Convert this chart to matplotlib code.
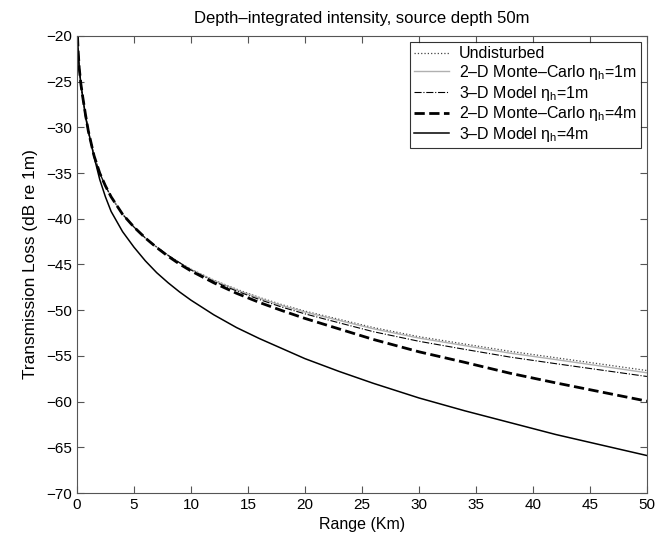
import matplotlib.pyplot as plt
import numpy as np

plt.rcParams['font.family'] = ['Liberation Sans', 'DejaVu Sans']
plt.rcParams['mathtext.fontset'] = 'custom'
plt.rcParams['mathtext.rm'] = 'Liberation Sans'
plt.rcParams['mathtext.it'] = 'Liberation Sans'

# range (km)
rng = [0.05, 0.1, 0.2, 0.35, 0.5, 0.75, 1, 1.5, 2, 2.5, 3, 4, 5, 6, 7, 8, 9,
       10, 12, 14, 16, 18, 20, 23, 26, 30, 34, 38, 42, 46, 50]

# common near-field part (0.05 .. 9 km)
head = [-20.0, -21.5, -23.5, -25.3, -26.6, -28.6, -30.4, -33.1, -35.0, -36.4,
        -37.6, -39.5, -40.9, -42.1, -43.1, -44.0, -44.8]

undisturbed = head + [-45.5, -46.7, -47.7, -48.6, -49.4, -50.1, -51.0, -51.9,
                      -52.9, -53.7, -54.5, -55.2, -55.9, -56.6]
mc_1m = head + [-45.55, -46.75, -47.78, -48.68, -49.5, -50.2, -51.12, -52.03,
                -53.05, -53.87, -54.7, -55.4, -56.12, -56.85]
model_1m = head + [-45.6, -46.85, -47.9, -48.83, -49.67, -50.4, -51.38,
                   -52.35, -53.4, -54.28, -55.13, -55.85, -56.55, -57.25]
mc_4m = head[:14] + [-43.15, -44.1, -44.95, -45.7, -47.0, -48.15, -49.15,
                     -50.05, -50.9, -52.05, -53.2, -54.55, -55.7, -56.9,
                     -57.95, -58.95, -59.95]
model_4m = [-20.0, -21.5, -23.5, -25.3, -26.6, -28.8, -30.4, -33.2, -35.7,
            -37.6, -39.2, -41.4, -43.1, -44.6, -45.9, -47.0, -48.0, -48.9,
            -50.5, -51.9, -53.1, -54.2, -55.3, -56.7, -58.0, -59.6, -61.0,
            -62.3, -63.6, -64.75, -65.9]

eta = r'$\eta_\mathregular{h}$'

fig = plt.figure(figsize=(6.69, 5.42), dpi=100)
ax = fig.add_axes([0.115, 0.0904, 0.852, 0.8432])

ax.plot(rng, undisturbed, ':', color='#444444', lw=0.9, label='Undisturbed')
ax.plot(rng, mc_1m, '-', color='#b0b0b0', lw=1.0,
        label='2\u2013D Monte\u2013Carlo ' + eta + '=1m')
ax.plot(rng, model_1m, '-.', color='black', lw=0.8,
        label='3\u2013D Model ' + eta + '=1m')
ax.plot(rng, mc_4m, '--', color='black', lw=2.0,
        label='2\u2013D Monte\u2013Carlo ' + eta + '=4m')
ax.plot(rng, model_4m, '-', color='black', lw=1.1,
        label='3\u2013D Model ' + eta + '=4m')

ax.set_xlim(0, 50)
ax.set_ylim(-70, -20)
ax.set_xticks(np.arange(0, 51, 5))
ax.set_yticks(np.arange(-70, -19, 5))
ax.tick_params(direction='in', top=True, right=True, labelsize=11, length=5,
               color='#555555')
for s in ax.spines.values():
    s.set_color('#555555')

ax.set_xlabel('Range (Km)', fontsize=11.5)
ax.set_ylabel('Transmission Loss (dB re 1m)', fontsize=12.4, labelpad=6)
ax.set_title('Depth\u2013integrated intensity, source depth 50m', fontsize=12,
             pad=9)

leg = ax.legend(loc='upper right', fontsize=11.5, frameon=True, fancybox=False,
                edgecolor='black', borderaxespad=0.4, labelspacing=0.1,
                handlelength=2.2, handletextpad=0.6, borderpad=0.25)
leg.get_frame().set_linewidth(0.8)

fig.savefig('out.png', dpi=100)
